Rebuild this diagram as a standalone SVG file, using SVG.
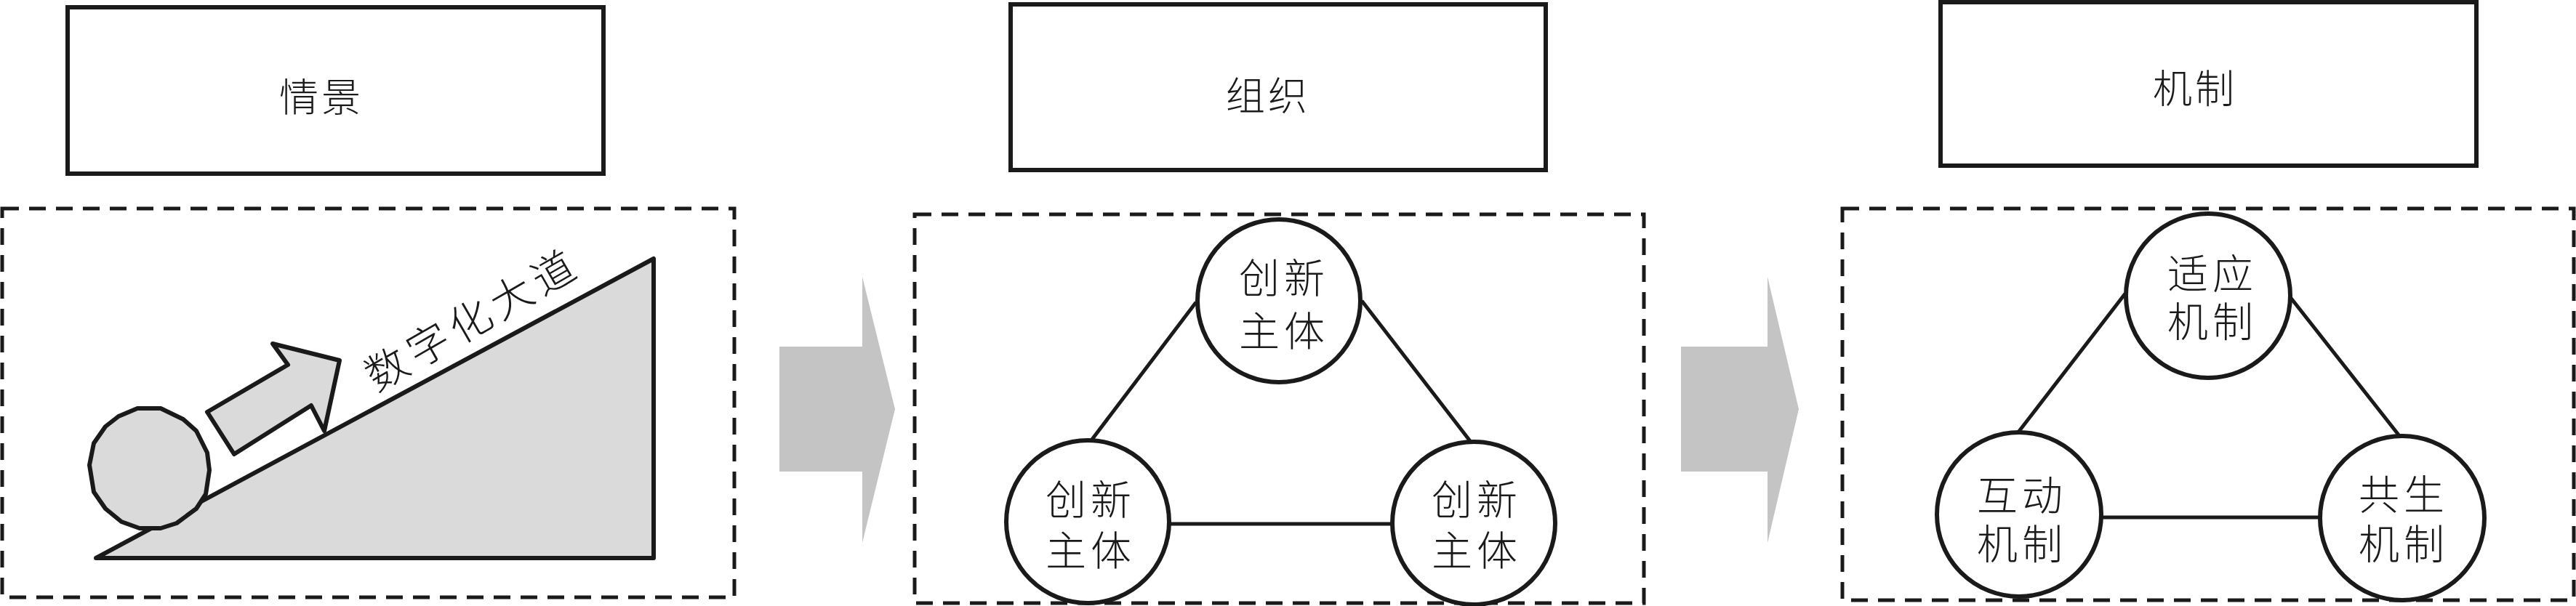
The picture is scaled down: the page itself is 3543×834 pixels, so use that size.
<svg xmlns="http://www.w3.org/2000/svg" width="3543" height="834" viewBox="0 0 3543 834">
<style>
.box{fill:#fff;stroke:#1a1a1a;stroke-width:6}
.dash{fill:none;stroke:#1a1a1a;stroke-width:5;stroke-dasharray:23 14}
.node{fill:#fff;stroke:#1a1a1a;stroke-width:6}
.conn{stroke:#1a1a1a;stroke-width:5;fill:none}
.big{fill:#c4c4c4}
.shape{fill:#dadada;stroke:#1a1a1a;stroke-width:6;stroke-linejoin:round}
.t{font-family:"Noto Sans CJK SC","Noto Sans CJK TC",sans-serif;font-weight:300;font-size:56px;fill:#1a1a1a;text-anchor:middle;dominant-baseline:central;letter-spacing:6px}
.h{font-family:"Noto Sans CJK SC","Noto Sans CJK TC",sans-serif;font-weight:300;font-size:54px;fill:#1a1a1a;text-anchor:middle;dominant-baseline:central;letter-spacing:4px}
</style>

<g id="title-scene"><rect class="box" x="93" y="10" width="737" height="229"/><text class="h" x="442" y="130">情景</text></g>
<g id="title-org"><rect class="box" x="1390" y="6" width="736" height="228"/><text class="h" x="1744" y="128">组织</text></g>
<g id="title-mech"><rect class="box" x="2669" y="3" width="737" height="225"/><text class="h" x="3019" y="118">机制</text></g>

<g id="panel-scene">
<rect class="dash" x="3" y="287" width="1007" height="535"/>
<polygon class="shape" points="132,768 899,356 899,768"/>
<path class="shape" d="M189,562 L221,562 L252,577 L270,593 L285,623 L288,647 L283,680 L270,700 L243,720 L221,727 L192,727 L167,718 L145,700 L129,677 L123,640 L129,610 L145,587 L163,573 Z"/>
<polygon class="shape" points="285,567 322,625 428,558 446,593 467,496 375,473 396,502"/>
<text class="t" x="648" y="436" transform="rotate(-30 648 436)" style="font-size:58px;letter-spacing:8px">数字化大道</text>
</g>

<g id="arrow-1"><polygon class="big" points="1072,477 1186,477 1186,381 1231,563 1186,747 1186,649 1072,649"/></g>
<g id="arrow-2"><polygon class="big" points="2312,477 2431,477 2431,381 2474,563 2431,747 2431,649 2312,649"/></g>

<g id="panel-org"><rect class="dash" x="1258" y="295" width="1003" height="535"/></g>
<g id="panel-mech"><rect class="dash" x="2534" y="287" width="1006" height="539"/></g>

<g id="connectors">
<line class="conn" x1="1645" y1="416" x2="1501" y2="606"/>
<line class="conn" x1="1873" y1="414" x2="2022" y2="607"/>
<line class="conn" x1="1609" y1="721" x2="1915" y2="721"/>
<line class="conn" x1="2923" y1="404" x2="2775" y2="596"/>
<line class="conn" x1="3150" y1="409" x2="3301" y2="601"/>
<line class="conn" x1="2890" y1="712" x2="3191" y2="712"/>
</g>

<g id="org-top"><circle class="node" cx="1759" cy="414" r="112"/><text class="t"><tspan x="1766" y="378">创新</tspan><tspan x="1766" y="451">主体</tspan></text></g>
<g id="org-left"><circle class="node" cx="1496" cy="718" r="112"/><text class="t"><tspan x="1500" y="683">创新</tspan><tspan x="1500" y="753">主体</tspan></text></g>
<g id="org-right"><circle class="node" cx="2027" cy="720" r="112"/><text class="t"><tspan x="2031" y="683">创新</tspan><tspan x="2031" y="753">主体</tspan></text></g>

<g id="mech-top"><circle class="node" cx="3037" cy="407" r="113"/><text class="t"><tspan x="3043" y="372">适应</tspan><tspan x="3043" y="438">机制</tspan></text></g>
<g id="mech-left"><circle class="node" cx="2777" cy="708" r="113"/><text class="t"><tspan x="2781" y="677">互动</tspan><tspan x="2781" y="744">机制</tspan></text></g>
<g id="mech-right"><circle class="node" cx="3304" cy="713" r="113"/><text class="t"><tspan x="3306" y="676">共生</tspan><tspan x="3306" y="744">机制</tspan></text></g>
</svg>
